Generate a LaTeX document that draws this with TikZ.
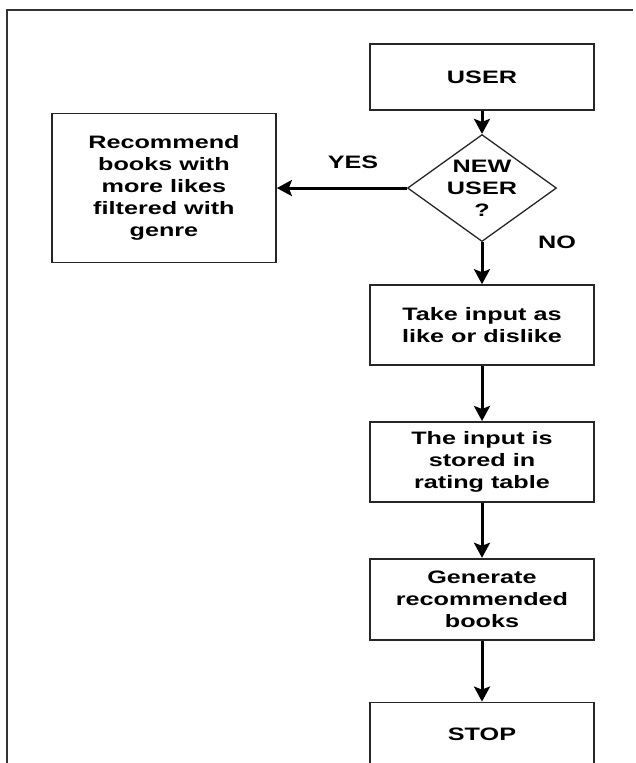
\documentclass[tikz,border=0pt]{standalone}
\usepackage{fontspec}
\setmainfont{Liberation Sans}[FakeStretch=1.4]
\usetikzlibrary{shapes.geometric,arrows.meta,positioning}
\tikzset{
  caixa/.style={rectangle, draw=black!85, line width=1.8pt, minimum width=224pt,
                inner sep=0pt, align=center, font=\fontsize{18}{22}\selectfont\bfseries},
  losango/.style={diamond, draw=black!85, line width=1.3pt, aspect=1.39,
                  minimum width=149pt, minimum height=107pt, inner sep=0pt,
                  align=center, font=\fontsize{18}{22}\selectfont\bfseries},
  rotulo/.style={font=\fontsize{18}{22}\selectfont\bfseries},
  seta/.style={-{Stealth[length=15pt, width=16pt, inset=3pt]}, line width=3pt, black},
  moldura/.style={draw=black!80, line width=1.5pt},
}
\begin{document}
\begin{tikzpicture}[x=1pt, y=-1pt]
  \useasboundingbox (0,0) rectangle (635,763);
  \draw[moldura] (7,763) -- (7,10) -- (633,10);
  % coluna principal
  \node[caixa, minimum height=66pt] (usuario) at (482,77) {USER};
  \node[losango, below=23pt of usuario] (novo) {NEW\\USER\\?};
  \node[caixa, minimum height=80pt, below=42pt of novo] (entrada) {Take input as\\like or dislike};
  \node[caixa, minimum height=80pt, below=55pt of entrada] (tabela) {The input is\\stored in\\rating table};
  \node[caixa, minimum height=81pt, below=55pt of tabela] (gerar) {Generate\\recommended\\books};
  \node[caixa, minimum height=64pt, below=61pt of gerar] (fim) {STOP};
  % ramo do novo usuario
  \node[caixa, minimum height=149pt, left=130pt of novo] (recomenda) {Recommend\\books with\\more likes\\filtered with\\genre};
  \node[rotulo] (sim) at (353,162) {YES};
  \node[rotulo] (nao) at (557,242) {NO};
  \draw[seta] (usuario) -- (novo);
  \draw[seta] (novo) -- (recomenda);
  \draw[seta] (novo) -- (entrada);
  \draw[seta] (entrada) -- (tabela);
  \draw[seta] (tabela) -- (gerar);
  \draw[seta] (gerar) -- (fim);
\end{tikzpicture}
\end{document}
